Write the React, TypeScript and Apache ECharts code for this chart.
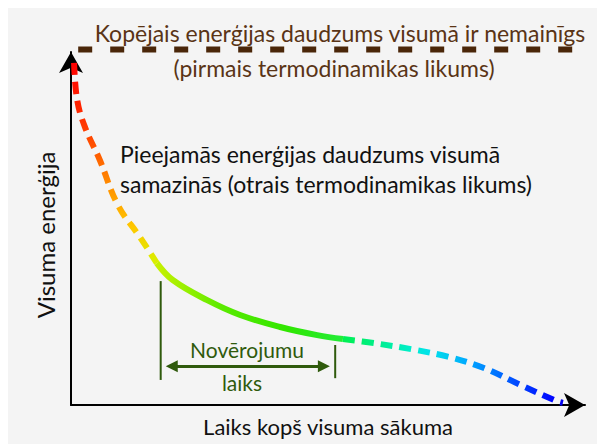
import React, { useEffect, useRef } from "react";
import * as echarts from "echarts";

// Curve segments (x: time, y: available energy), arbitrary 0–100 units
const earlyCurve: [number, number][] = [
  [0.6, 96.9], [1.2, 86.4], [2.7, 78.8], [5.6, 69.4], [9.1, 56.7], [13.4, 47.6], [16.7, 40.2],
];
const observedCurve: [number, number][] = [
  [16.7, 40.2], [19.8, 35.4], [26.5, 29.7], [32.9, 25.5], [40.7, 22.1], [47.9, 19.8], [52.9, 18.7],
];
const futureCurve: [number, number][] = [
  [52.9, 18.7], [59.1, 17.5], [66.3, 15.8], [73.3, 13.7], [80.5, 10.4], [87.4, 5.7], [94.5, 1.1], [95.7, 0.6],
];
// Total energy (constant)
const totalEnergy: [number, number][] = [
  [1.4, 100.7], [102.9, 100.7],
];
// Observation window markers
const obsStartLine: [number, number][] = [[17.45, 35.1], [17.45, 7.1]];
const obsEndLine: [number, number][] = [[51.4, 17.0], [51.4, 7.6]];
const obsArrow: [number, number][] = [[19.6, 11.0], [49.2, 11.0]];

const xName = "Laiks kopš visuma sākuma";
const yName = "Visuma enerģija";
const topLine1 = "Kopējais enerģijas daudzums visumā ir nemainīgs";
const topLine2 = "(pirmais termodinamikas likums)";
const midLine1 = "Pieejamās enerģijas daudzums visumā";
const midLine2 = "samazinās (otrais termodinamikas likums)";
const obsLabel1 = "Novērojumu";
const obsLabel2 = "laiks";

const FONT = "Lato";
const BROWN = "#4a2609";
const BROWN_TEXT = "#5a3416";
const DKGREEN = "#2f5a0c";

export default function App() {
  const ref = useRef<HTMLDivElement>(null);
  useEffect(() => {
    if (!ref.current) return;
    const chart = echarts.init(ref.current, undefined, { renderer: "svg" });
    const grad = (x2: number, y2: number, stops: [number, string][]) =>
      new echarts.graphic.LinearGradient(0, 0, x2, y2, stops.map(([offset, color]) => ({ offset, color })));
    chart.setOption({
      animation: false,
      backgroundColor: "#f4f4f4",
      grid: { left: 63, top: 50, right: 20, bottom: 39 },
      xAxis: {
        type: "value", min: 0, max: 100,
        name: xName, nameLocation: "middle", nameGap: 10,
        nameTextStyle: { fontFamily: FONT, fontSize: 22, color: "#111" },
        axisLine: { lineStyle: { color: "#000", width: 2 }, symbol: ["none", "arrow"], symbolSize: [18, 21] },
        axisTick: { show: false }, axisLabel: { show: false }, splitLine: { show: false },
      },
      yAxis: {
        type: "value", min: 0, max: 100,
        name: yName, nameLocation: "middle", nameGap: 14, nameRotate: 90,
        nameTextStyle: { fontFamily: FONT, fontSize: 24, color: "#111", padding: [0, 13, 0, 0] },
        axisLine: { lineStyle: { color: "#000", width: 2 }, symbol: ["none", "arrow"], symbolSize: [18, 21] },
        axisTick: { show: false }, axisLabel: { show: false }, splitLine: { show: false },
      },
      series: [
        {
          type: "line", data: totalEnergy, showSymbol: false, clip: false, silent: true,
          lineStyle: { color: BROWN, width: 6, type: [14, 18], cap: "butt" },
        },
        {
          type: "line", data: earlyCurve, smooth: 0.4, showSymbol: false, silent: true,
          lineStyle: {
            width: 6, type: [12, 7], cap: "butt",
            color: grad(0, 1, [[0, "#ff0000"], [0.25, "#ff2a00"], [0.45, "#ff5a00"], [0.65, "#ff9a00"], [0.82, "#ffc800"], [1, "#d8f000"]]),
          },
        },
        {
          type: "line", data: observedCurve, smooth: 0.4, showSymbol: false, silent: true,
          lineStyle: {
            width: 6, cap: "butt",
            color: grad(1, 0, [[0, "#c8f000"], [0.15, "#99f000"], [0.35, "#5aea00"], [0.7, "#30e600"], [1, "#22ec38"]]),
          },
        },
        {
          type: "line", data: futureCurve, smooth: 0.35, showSymbol: false, silent: true,
          lineStyle: {
            width: 6, type: [12, 7], cap: "butt",
            color: grad(1, 0, [[0, "#00f050"], [0.15, "#00ee88"], [0.31, "#00eecc"], [0.4, "#00e0ee"], [0.48, "#00c8f0"], [0.56, "#00aaff"], [0.65, "#0088ff"], [0.8, "#0044ff"], [0.97, "#0000ff"], [1, "#0000ee"]]),
          },
        },
        {
          type: "line", data: obsStartLine, showSymbol: false, silent: true,
          lineStyle: { color: DKGREEN, width: 2 },
        },
        {
          type: "line", data: obsEndLine, showSymbol: false, silent: true,
          lineStyle: { color: DKGREEN, width: 2 },
        },
        {
          type: "line", data: [], silent: true,
          markLine: {
            silent: true, animation: false,
            symbol: ["triangle", "triangle"], symbolSize: [12, 12],
            label: { show: false },
            lineStyle: { color: DKGREEN, width: 3, type: "solid" },
            emphasis: { disabled: true },
            data: [[{ coord: obsArrow[0] }, { coord: obsArrow[1] }]],
          },
        },
      ],
      graphic: [
        { type: "text", x: 332, y: 31, style: { text: topLine1, fontFamily: FONT, fontSize: 23, fill: BROWN_TEXT, align: "center", verticalAlign: "middle" } },
        { type: "text", x: 326, y: 66, style: { text: topLine2, fontFamily: FONT, fontSize: 23, fill: BROWN_TEXT, align: "center", verticalAlign: "middle" } },
        { type: "text", x: 112, y: 152, style: { text: midLine1, fontFamily: FONT, fontSize: 23, fill: "#111", align: "left", verticalAlign: "middle" } },
        { type: "text", x: 112, y: 182, style: { text: midLine2, fontFamily: FONT, fontSize: 23, fill: "#111", align: "left", verticalAlign: "middle" } },
        { type: "text", x: 239, y: 347, style: { text: obsLabel1, fontFamily: FONT, fontSize: 21, fill: DKGREEN, align: "center", verticalAlign: "middle" } },
        { type: "text", x: 234, y: 380, style: { text: obsLabel2, fontFamily: FONT, fontSize: 21, fill: DKGREEN, align: "center", verticalAlign: "middle" } },
      ],
    });
    return () => chart.dispose();
  }, []);
  return <div ref={ref} style={{ width: 597, height: 442, marginTop: -6, background: "#f4f4f4" }} />;
}
